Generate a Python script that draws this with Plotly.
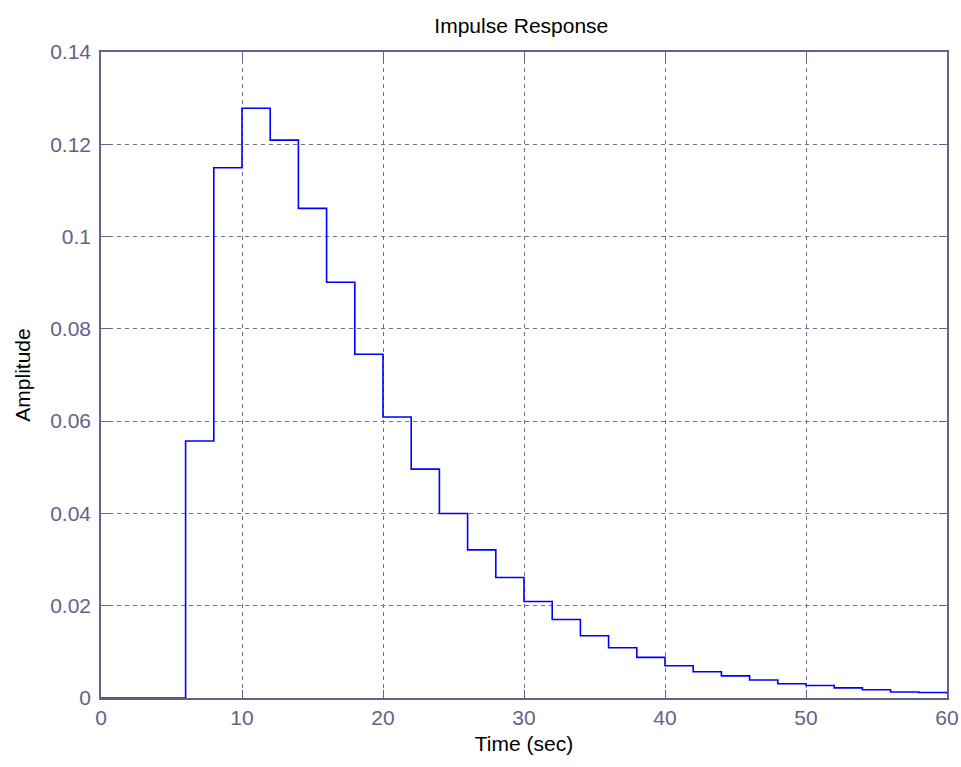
import plotly.graph_objects as go

time_s = [0, 2, 4, 6, 8, 10, 12, 14, 16, 18, 20, 22, 24, 26, 28, 30, 32, 34, 36, 38,
          40, 42, 44, 46, 48, 50, 52, 54, 56, 58, 60]
amplitude = [0, 0, 0, 0.0557, 0.1149, 0.1278, 0.1209, 0.1061, 0.0901, 0.0745, 0.0609,
             0.0496, 0.0400, 0.0321, 0.0261, 0.0209, 0.0170, 0.0135, 0.0109, 0.0088,
             0.0070, 0.0057, 0.0048, 0.0039, 0.0031, 0.0027, 0.0022, 0.0018, 0.0013,
             0.0012, 0.0009]
x_ticks = [0, 10, 20, 30, 40, 50, 60]
y_ticks = [0, 0.02, 0.04, 0.06, 0.08, 0.1, 0.12, 0.14]
y_tick_text = ["0", "0.02", "0.04", "0.06", "0.08", "0.1", "0.12", "0.14"]

axis_col = "#62628a"
grid_col = "#6e6e8e"
font_fam = "Liberation Sans, Arial, sans-serif"
fs = 21

fig = go.Figure()
fig.add_trace(go.Scatter(x=time_s, y=amplitude, mode="lines",
                         line=dict(shape="hv", color="#0000ff", width=1.6),
                         showlegend=False))

fig.update_layout(
    width=961, height=767,
    margin=dict(l=101, r=14, t=52, b=69),
    paper_bgcolor="white", plot_bgcolor="white",
    font=dict(family=font_fam, size=fs, color="black"),
    title=dict(text="Impulse Response", x=0.5425, xanchor="center", y=0.966,
               yanchor="middle", font=dict(size=fs, color="black")),
)
fig.update_xaxes(
    range=[0, 60], tickvals=x_ticks, ticktext=[str(v) for v in x_ticks],
    automargin=False,
    showline=True, linecolor=axis_col, linewidth=1.5, mirror="ticks",
    ticks="inside", ticklen=8, tickcolor=axis_col,
    tickfont=dict(color=axis_col, size=fs, family=font_fam),
    ticklabelstandoff=0,
    showgrid=True, gridcolor=grid_col, griddash="4px,4px", gridwidth=1,
    zeroline=False,
    title=dict(text="Time (sec)", font=dict(size=fs, color="black"), standoff=8),
)
fig.update_yaxes(
    range=[0, 0.14], tickvals=y_ticks, ticktext=y_tick_text,
    automargin=False,
    showline=True, linecolor=axis_col, linewidth=1.5, mirror="ticks",
    ticks="inside", ticklen=8, tickcolor=axis_col,
    tickfont=dict(color=axis_col, size=fs, family=font_fam),
    ticklabelstandoff=4,
    showgrid=True, gridcolor=grid_col, griddash="4px,4px", gridwidth=1,
    zeroline=False,
    title=dict(text="Amplitude", font=dict(size=fs, color="black"), standoff=14),
)

fig.write_html("out.html")
